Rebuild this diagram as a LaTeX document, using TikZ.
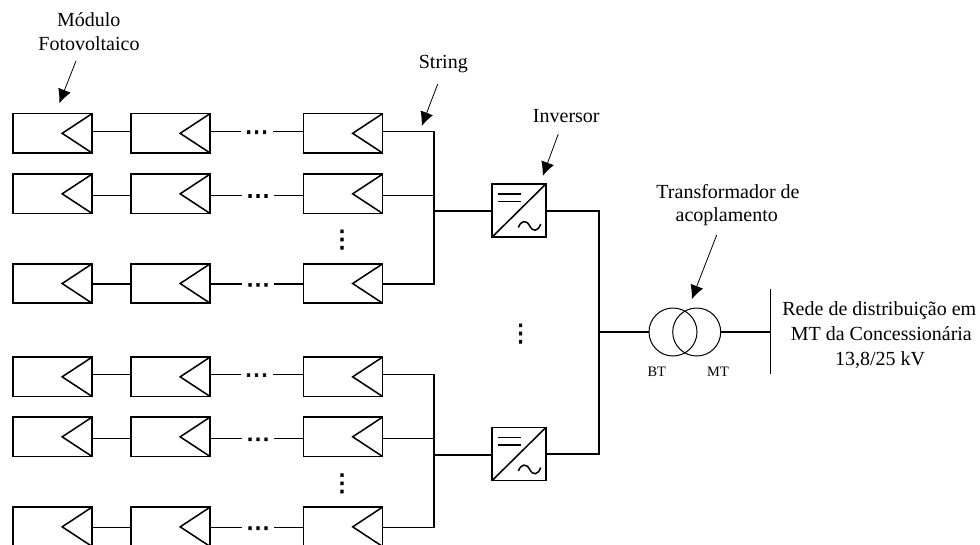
\documentclass[tikz,border=0pt]{standalone}
\usepackage{fontspec}
\setmainfont{Liberation Serif}
\newfontfamily\dotfont[FakeBold=2.5]{DejaVu Sans}
\usetikzlibrary{arrows.meta,calc}
\tikzset{
  wire/.style={line width=1.15pt},
  thinwire/.style={line width=0.75pt},
  modbox/.style={draw,line width=1.15pt,minimum width=59.5pt,minimum height=29.6pt,inner sep=0pt,outer sep=0pt},
  invbox/.style={draw,line width=1.15pt,minimum width=40.5pt,minimum height=40pt,inner sep=0pt,outer sep=0pt},
  trafo/.style={circle,draw,line width=0.75pt,minimum size=36pt,inner sep=0pt,outer sep=0pt},
  lbl/.style={font=\fontsize{15}{15}\selectfont,anchor=base,inner sep=0pt},
  small/.style={font=\fontsize{10.8}{11}\selectfont,anchor=base,inner sep=0pt},
  dotsh/.style={font=\dotfont\fontsize{18}{18}\selectfont,inner sep=0pt},
  dotsv/.style={font=\dotfont\fontsize{18}{18}\selectfont,inner sep=0pt},
  callout/.style={line width=0.6pt,-{Latex[length=10.5pt,width=10pt]}}
}
\begin{document}
\begin{tikzpicture}[x=0.75pt,y=-0.75pt]
\useasboundingbox (0,0) rectangle (980,544);
\clip (0,0) rectangle (980,544);
% rows of modules: row/centre y/wire y/dots x/left-stub end/right-stub start
\foreach \r/\cy/\wy/\dx/\sa/\sb in {1/133.3/131.6/256.7/240.7/273,2/193.8/195.4/258/241.7/274,3/283.5/284.2/258/242/274,4/376.8/374.5/256.5/240.7/273,5/436.8/438.7/258/242/274,6/526.8/527.6/258/242/274}{
  \foreach \c/\cx in {1/52.5,2/170.5,3/343}{
    \node[modbox] (m\r\c) at (\cx,\cy) {};
    \draw[line width=1.15pt,line join=miter] (m\r\c.north east) -- ++(-30,19.75) -- (m\r\c.south east);
  }
  \coordinate (sl\r) at (\sa,\wy);
  \coordinate (sr\r) at (\sb,\wy);
  \node[dotsh] (dh\r) at (\dx,\wy+3.6) {⋯};
  \draw[wire] (m\r1.east |- sl\r) -- (m\r2.west |- sl\r);
  \draw[wire] (m\r2.east |- sl\r) -- (sl\r);
  \draw[wire] (sr\r) -- (m\r3.west |- sr\r);
}
% inverters
\foreach \n/\ix/\iy in {1/519/210.5,2/519/454}{
  \begin{scope}[shift={(\ix,\iy)}]
    \node[invbox] (inv\n) at (0,0) {};
    \draw[wire] (inv\n.south west) -- (inv\n.north east);
    \draw[wire] (-20.7,-16.5) -- (2,-16.5) (-20.7,-9) -- (2,-9);
    \draw[wire] (-0.7,17) .. controls (2,10) and (7,9) .. (10.5,15) .. controls (14,22) and (19,21) .. (21.7,13.5);
  \end{scope}
}
% string buses
\coordinate (bus1) at (434,211.2);
\coordinate (bus2) at (434,455);
\draw[wire] (m13.east |- sl1) -| (bus1 |- sl3) -- (m33.east |- sl3);
\draw[wire] (m23.east |- sl2) -- (bus1 |- sl2);
\draw[wire] (bus1) -- (inv1.west |- bus1);
\draw[wire] (m43.east |- sl4) -| (bus2 |- sl6) -- (m63.east |- sl6);
\draw[wire] (m53.east |- sl5) -- (bus2 |- sl5);
\draw[wire] (bus2) -- (inv2.west |- bus2);
% transformer
\node[trafo] (t1) at (673,332) {};
\node[trafo] (t2) at (696.7,332) {};
\coordinate (main) at (599,332);
\draw[wire] ([yshift=-0.4pt]inv1.east) -| (main |- inv2.east) -- (inv2.east);
\draw[wire] (main) -- (t1.west);
\coordinate (grid) at (770.3,332);
\draw[wire] (t2.east) -- (grid);
\draw[thinwire] (770.3,289) -- (770.3,374.3);
% dots
\node[dotsv] (dv1) at (342,239.5) {⋮};
\node[dotsv] (dv2) at (342,483.3) {⋮};
\node[dotsv] (dv3) at (520.7,333.5) {⋮};
% labels
\node[lbl] (l1) at (88.7,26) {Módulo};
\node[lbl] (l2) at (89,50) {Fotovoltaico};
\node[lbl] (l3) at (443.3,68.3) {String};
\node[lbl] (l4) at (566.3,122.3) {Inversor};
\node[lbl] (l5) at (728,198) {Transformador de};
\node[lbl] (l6) at (726.7,221.7) {acoplamento};
\node[lbl] (l7) at (879.3,315.7) {Rede de distribuição em};
\node[lbl] (l8) at (881.3,340) {MT da Concessionária};
\node[lbl] (l9) at (880,365) {13,8/25 kV};
\node[small] (bt) at (656.7,376) {BT};
\node[small] (mt) at (718,376) {MT};
% arrows
\coordinate (a1s) at (76,61);     \coordinate (a1e) at (59.3,103.3);
\coordinate (a2s) at (437.7,84);  \coordinate (a2e) at (421.7,126);
\coordinate (a3s) at (558.3,134); \coordinate (a3e) at (542.7,176);
\coordinate (a4s) at (716.7,235); \coordinate (a4e) at (691.7,299.3);
\draw[callout] (a1s) -- (a1e);
\draw[callout] (a2s) -- (a2e);
\draw[callout] (a3s) -- (a3e);
\draw[callout] (a4s) -- (a4e);
\end{tikzpicture}
\end{document}
